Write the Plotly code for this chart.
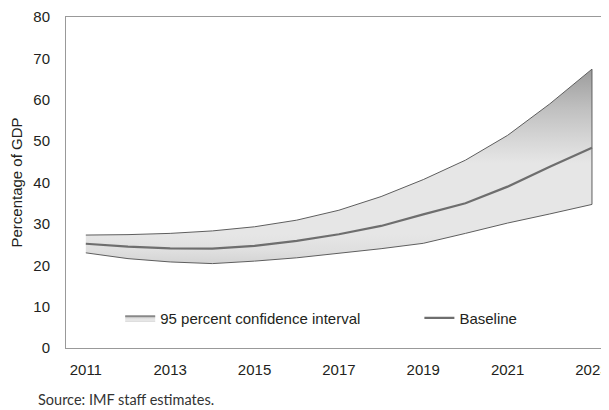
import plotly.graph_objects as go

years = list(range(2011, 2024))
baseline = [25.2, 24.5, 24.1, 24.0, 24.7, 25.9, 27.5, 29.5, 32.3, 35.0, 39.0, 43.8, 48.4]
upper = [27.3, 27.4, 27.7, 28.3, 29.3, 30.9, 33.3, 36.6, 40.7, 45.4, 51.4, 59.0, 67.4]
lower = [23.0, 21.6, 20.8, 20.4, 21.0, 21.8, 22.9, 24.0, 25.3, 27.7, 30.2, 32.4, 34.7]
x_ticks = [2011, 2013, 2015, 2017, 2019, 2021, 2023]
y_ticks = [0, 10, 20, 30, 40, 50, 60, 70, 80]

font_main = "Liberation Sans, Arial, sans-serif"

fig = go.Figure()
fig.add_trace(go.Scatter(
    x=years + years[::-1],
    y=upper + lower[::-1],
    fill="toself",
    mode="lines",
    line=dict(color="#5e5e5e", width=1),
    fillgradient=dict(
        type="vertical",
        start=20,
        stop=67.5,
        colorscale=[
            [0.0, "#d0d0d0"],
            [0.084, "#dfdfdf"],
            [0.168, "#e6e6e6"],
            [0.526, "#e6e6e6"],
            [0.632, "#d8d8d8"],
            [0.8, "#c0c0c0"],
            [1.0, "#9c9c9c"],
        ],
    ),
    name="95 percent confidence interval",
    legend="legend",
    hoverinfo="skip",
))
fig.add_trace(go.Scatter(
    x=years, y=baseline, mode="lines",
    line=dict(color="#6e6e6e", width=2.2),
    name="Baseline",
    legend="legend2",
))

legend_common = dict(
    orientation="h",
    y=0.09, yanchor="middle",
    bgcolor="rgba(0,0,0,0)",
    font=dict(size=15, color="#231f20"),
)

fig.update_layout(
    width=601, height=402,
    margin=dict(l=58, r=0, t=6, b=62),
    paper_bgcolor="white", plot_bgcolor="white",
    font=dict(family=font_main, size=15, color="#231f20"),
    showlegend=True,
    legend=dict(x=0.1, xanchor="left", **legend_common),
    legend2=dict(x=0.652, xanchor="left", **legend_common),
    xaxis=dict(
        range=[2010.53, 2023.38],
        tickvals=x_ticks,
        ticktext=[str(v) for v in x_ticks],
        showgrid=False, zeroline=False,
        showline=True, linecolor="#999999", linewidth=1, mirror=True,
        ticks="", ticklabelstandoff=8, ticklabeloverflow="allow",
    ),
    yaxis=dict(
        range=[0, 80],
        tickvals=y_ticks,
        showgrid=False, zeroline=False,
        showline=True, linecolor="#999999", linewidth=1, mirror=False,
        ticks="", ticklabelstandoff=12, ticklabeloverflow="allow",
        title=dict(text="Percentage of GDP", standoff=13, font=dict(size=15)),
    ),
    annotations=[dict(
        text="Source: IMF staff estimates.",
        xref="paper", yref="paper",
        x=-0.056, y=-0.123, xanchor="left", yanchor="top",
        showarrow=False,
        font=dict(family="Lato, sans-serif", size=14.5, color="#333333"),
    )],
)

fig.write_html("out.html")
